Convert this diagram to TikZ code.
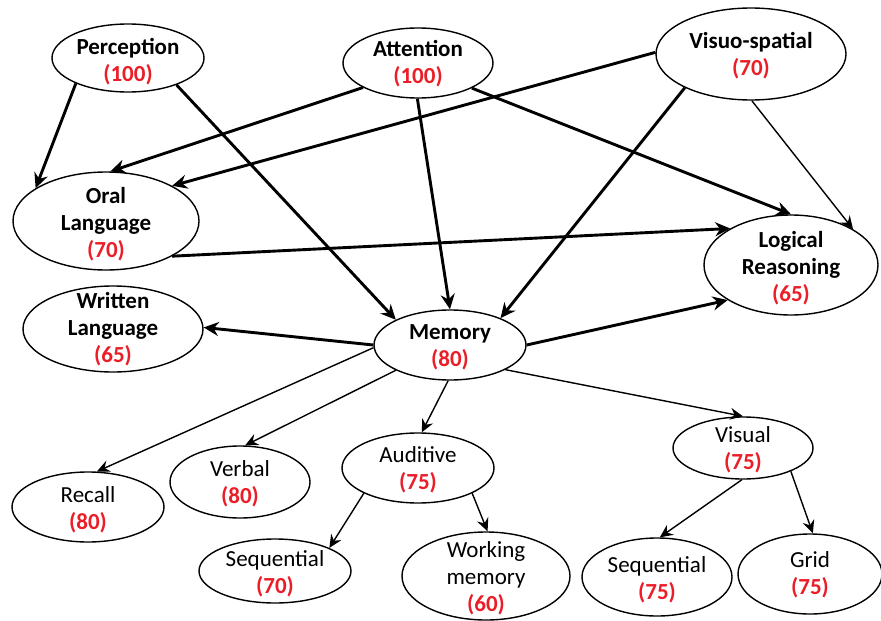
\documentclass[tikz,border=0pt]{standalone}
\usepackage{fontspec}
\setmainfont{Carlito}
\usetikzlibrary{shapes.geometric,arrows.meta}
\definecolor{numred}{RGB}{235,30,40}
\newcommand\rnum[1]{\textcolor{numred}{\bfseries(#1)}}
\begin{document}
\begin{tikzpicture}[x=1pt,y=-1pt,
  el/.style={ellipse,draw,line width=1.4pt,inner sep=0pt,fill=white},
  lbl/.style={align=center,font=\fontsize{23}{27}\selectfont,inner sep=0pt},
  blbl/.style={align=center,font=\fontsize{23}{27}\selectfont\bfseries,inner sep=0pt},
  thk/.style={line width=2.9pt,-{Stealth[length=15pt,width=14pt,inset=5pt]}},
  thn/.style={line width=1.4pt,-{Stealth[length=13pt,width=12pt,inset=4.5pt]}},
]
\useasboundingbox (0,0) rectangle (881,621);
% ellipses
\node[el,minimum width=152pt,minimum height=68pt] (perc) at (128,58) {};
\node[el,minimum width=150pt,minimum height=70pt] (att) at (418,63) {};
\node[el,minimum width=190pt,minimum height=92pt] (vis) at (751,54) {};
\node[el,minimum width=186pt,minimum height=98pt] (oral) at (106,221) {};
\node[el,minimum width=174pt,minimum height=100pt] (logic) at (791,265) {};
\node[el,minimum width=180pt,minimum height=86pt] (writ) at (113,329) {};
\node[el,minimum width=152pt,minimum height=70pt] (mem) at (450,345) {};
\node[el,minimum width=152pt,minimum height=70pt] (recall) at (88,507) {};
\node[el,minimum width=140pt,minimum height=72pt] (verbal) at (240,482) {};
\node[el,minimum width=152pt,minimum height=70pt] (aud) at (418,468) {};
\node[el,minimum width=152pt,minimum height=64pt] (seqa) at (275,571) {};
\node[el,minimum width=168pt,minimum height=88pt] (work) at (486,576) {};
\node[el,minimum width=140pt,minimum height=62pt] (visual) at (743,448) {};
\node[el,minimum width=150pt,minimum height=78pt] (seqv) at (657,577) {};
\node[el,minimum width=144pt,minimum height=80pt] (grid) at (810,574) {};
% texts
\node[blbl] (percT) at (128,62) {Perception\\\rnum{100}};
\node[blbl] (attT) at (418,64) {Attention\\\rnum{100}};
\node[blbl] (visT) at (751,56) {Visuo-spatial\\\rnum{70}};
\node[blbl] (oralT) at (106,224) {Oral\\Language\\\rnum{70}};
\node[blbl] (logicT) at (791,268) {Logical\\Reasoning\\\rnum{65}};
\node[blbl] (writT) at (113,329) {Written\\Language\\\rnum{65}};
\node[blbl] (memT) at (450,347) {Memory\\\rnum{80}};
\node[lbl] (recallT) at (88,510) {Recall\\\rnum{80}};
\node[lbl] (verbalT) at (240,484) {Verbal\\\rnum{80}};
\node[lbl] (audT) at (418,470) {Auditive\\\rnum{75}};
\node[lbl] (seqaT) at (275,574) {Sequential\\\rnum{70}};
\node[lbl] (workT) at (486,578) {Working\\memory\\\rnum{60}};
\node[lbl] (visualT) at (743,450) {Visual\\\rnum{75}};
\node[lbl] (seqvT) at (657,580) {Sequential\\\rnum{75}};
\node[lbl] (gridT) at (810,575) {Grid\\\rnum{75}};
% thick connectors
\draw[thk] (perc.-154) -- (oral.155);
\draw[thk] (perc.-29) -- (mem.155);
\draw[thk] (att.-156) -- (oral.85);
\draw[thk] (att.-91) -- (mem.90);
\draw[thk] (att.-25) -- (logic.90);
\draw[thk] (vis.179) -- (oral.28);
\draw[thk] (vis.-153) -- (mem.28);
\draw[thk] (oral.-28) -- (logic.149);
\draw[thk] (mem.180) -- (writ.1);
\draw[thk] (mem.0) -- (logic.-151);
% thin connectors
\draw[thn] (vis.-89) -- (logic.30);
\draw[thn] (mem.-178) -- (recall.76);
\draw[thn] (mem.-155) -- (verbal.82);
\draw[thn] (mem.-93) -- (aud.84);
\draw[thn] (mem.-24) -- (visual.90);
\draw[thn] (aud.-155) -- (seqa.23);
\draw[thn] (aud.-25) -- (work.88);
\draw[thn] (visual.-92) -- (seqv.86);
\draw[thn] (visual.-26) -- (grid.86);
\end{tikzpicture}
\end{document}
